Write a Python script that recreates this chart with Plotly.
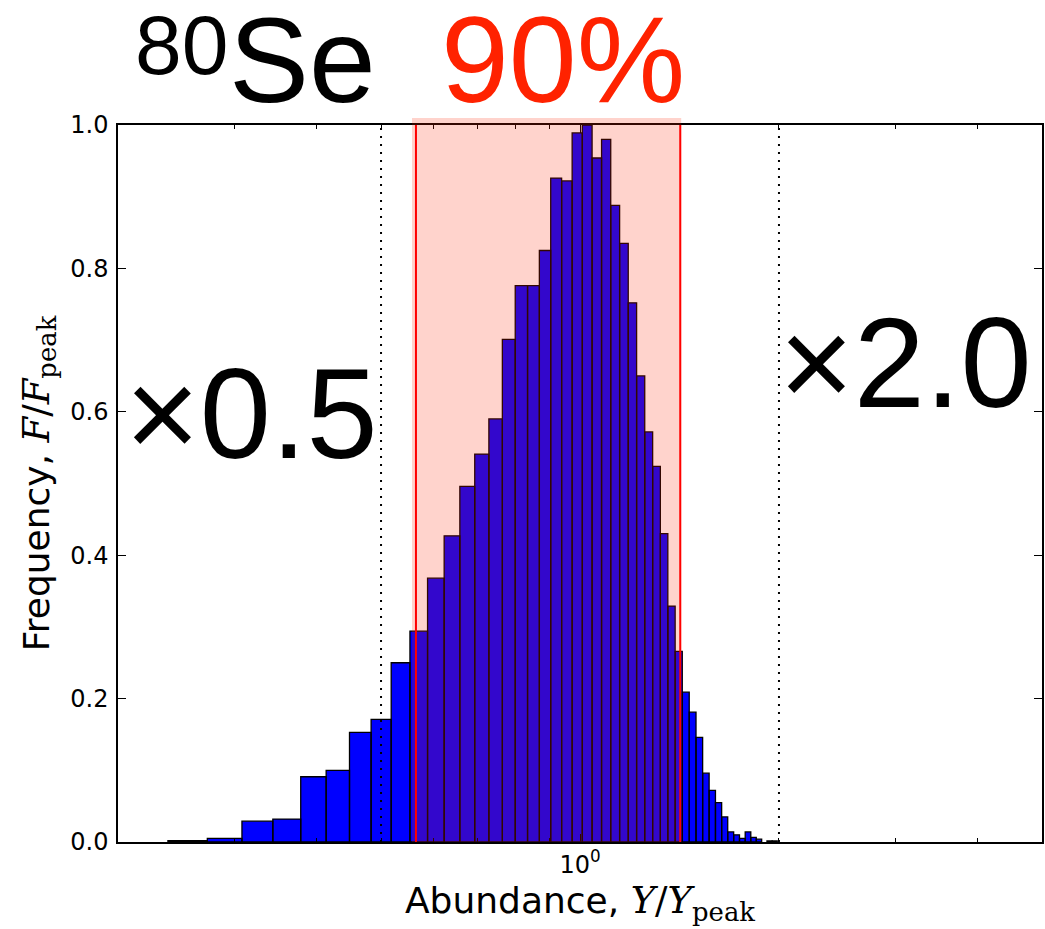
import plotly.graph_objects as go

# Histogram of 80Se abundance relative to the peak value (linear-width bins on a log axis)
bin_edges = [0.238, 0.273, 0.308, 0.343, 0.378, 0.413, 0.448, 0.483, 0.518, 0.553,
             0.588, 0.623, 0.658, 0.693, 0.728, 0.763, 0.798, 0.833, 0.868, 0.903,
             0.938, 0.973, 1.008, 1.043, 1.078, 1.113, 1.148, 1.183, 1.218, 1.253,
             1.288, 1.323, 1.358, 1.393, 1.428, 1.463, 1.498, 1.533, 1.568, 1.603,
             1.638, 1.673, 1.708, 1.743, 1.778, 1.813, 1.848, 1.883, 1.918, 1.953,
             1.988]
frequency = [0.002, 0.005, 0.029, 0.032, 0.091, 0.100, 0.153, 0.171, 0.250, 0.294,
             0.368, 0.427, 0.496, 0.541, 0.590, 0.701, 0.776, 0.776, 0.825, 0.926,
             0.922, 0.989, 1.000, 0.954, 0.980, 0.888, 0.835, 0.752, 0.650, 0.572,
             0.524, 0.430, 0.329, 0.266, 0.209, 0.181, 0.146, 0.096, 0.072, 0.055,
             0.035, 0.014, 0.010, 0.005, 0.014, 0.0065, 0.004, 0.0, 0.0015, 0.0015]

# 90% interval and the factor-of-two guides
interval_90 = [0.5647, 1.418]
span_90 = [0.557, 1.4227]
factor_lines = [0.5, 2.0]

isotope_mass = "80"
isotope_symbol = "Se"
interval_label = "90%"
factor_labels = ["×0.5", "×2.0"]

BLUE = "#0000ff"
RED = "#ff2200"
SANS = "DejaVu Sans"
BIG = "Liberation Sans"
SERIF = "DejaVu Serif"

# Build one closed rectangle per bin, separated by gaps
bx, by = [], []
for left, right, h in zip(bin_edges[:-1], bin_edges[1:], frequency):
    if h <= 0:
        continue
    bx += [left, left, right, right, left, None]
    by += [0, h, h, 0, 0, None]

fig = go.Figure()
fig.add_trace(go.Scatter(
    x=bx, y=by, mode="lines", fill="toself", fillcolor=BLUE,
    line=dict(color="black", width=1.3), hoverinfo="skip", showlegend=False,
))

shapes = []
# shaded 90% band drawn over the bars
shapes.append(dict(type="rect", xref="x", yref="paper",
                   x0=span_90[0], x1=span_90[1], y0=0, y1=1.0098,
                   fillcolor="rgba(255,34,0,0.2)", line=dict(width=0), layer="above"))
for v in interval_90:
    shapes.append(dict(type="line", xref="x", yref="paper", x0=v, x1=v, y0=0, y1=1,
                       line=dict(color="#ff0000", width=2), layer="above"))
for v in factor_lines:
    shapes.append(dict(type="line", xref="x", yref="paper", x0=v, x1=v, y0=0, y1=1,
                       line=dict(color="black", width=2, dash="2px,6px"), layer="above"))

annotations = [
    dict(text=isotope_mass, x=0.0162, y=1.1119, font=dict(family=BIG, size=84, color="black")),
    dict(text=isotope_symbol, x=0.1177, y=1.0902, font=dict(family=BIG, size=120, color="black")),
    dict(text=interval_label, x=0.3477, y=1.0902, font=dict(family=BIG, size=122, color=RED)),
    dict(text=factor_labels[0], x=0.0054, y=0.5975, font=dict(family=BIG, size=128, color="black")),
    dict(text=factor_labels[1], x=0.7127, y=0.6686, font=dict(family=BIG, size=128, color="black")),
]
for a in annotations:
    a.update(xref="paper", yref="paper", xanchor="left", yanchor="middle", showarrow=False)

math = lambda s: f'<span style="font-family:{SERIF};font-size:37px">{s}</span>'

fig.update_layout(
    width=1045, height=929,
    margin=dict(l=118, r=1, t=125, b=87),
    paper_bgcolor="white", plot_bgcolor="white",
    shapes=shapes, annotations=annotations,
    font=dict(family=SANS, color="black"),
    xaxis=dict(
        type="log", range=[-0.69897, 0.69897],
        tickvals=[1], ticktext=["10<sup>0</sup>"],
        ticks="inside", ticklen=8, tickwidth=1, tickcolor="black",
        minor=dict(tickvals=[0.3, 0.4, 0.5, 0.6, 0.7, 0.8, 0.9, 2, 3, 4],
                   ticks="inside", ticklen=4, tickwidth=1, tickcolor="black"),
        showline=True, linecolor="black", linewidth=1.5, mirror="ticks",
        showgrid=False, zeroline=False,
        tickfont=dict(family=SANS, size=24),
        title=dict(text="Abundance, " + math("<i>Y</i>/<i>Y</i><sub>peak</sub>"),
                   font=dict(family=SANS, size=36), standoff=10),
    ),
    yaxis=dict(
        range=[0, 1], tickvals=[0, 0.2, 0.4, 0.6, 0.8, 1.0],
        ticktext=["0.0", "0.2", "0.4", "0.6", "0.8", "1.0"],
        ticks="inside", ticklen=8, tickwidth=1, tickcolor="black",
        showline=True, linecolor="black", linewidth=1.5, mirror="ticks",
        showgrid=False, zeroline=False,
        tickfont=dict(family=SANS, size=24), ticklabelstandoff=3,
        title=dict(text="Frequency, " + math("<i>F</i>/<i>F</i><sub>peak</sub>"),
                   font=dict(family=SANS, size=36), standoff=10),
    ),
)

fig.write_html("out.html")
